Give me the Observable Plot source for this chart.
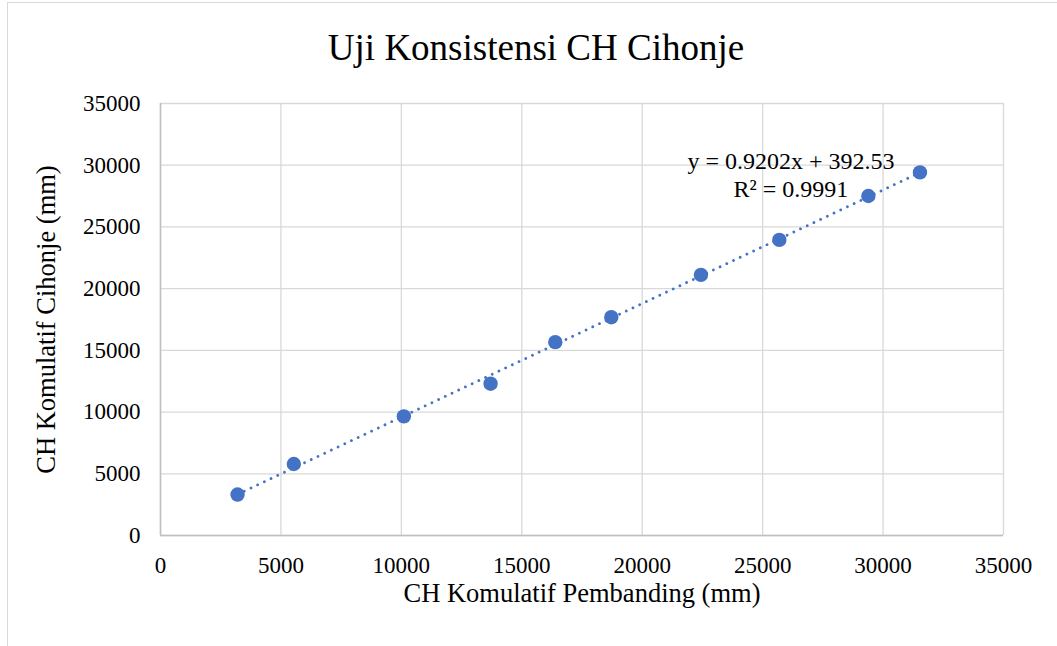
<!DOCTYPE html>
<html>
<head>
<meta charset="utf-8">
<script src="https://cdn.jsdelivr.net/npm/d3@7"></script>
<script src="https://cdn.jsdelivr.net/npm/@observablehq/plot@0.6"></script>
<style>
  html, body { margin: 0; padding: 0; background: #fff; overflow: hidden; width: 1057px; height: 646px; }
  #frame { position: absolute; left: 7px; top: 2px; width: 1100px; height: 700px;
           border-left: 1.5px solid #d9d9d9; border-top: 1.5px solid #d9d9d9; }
  #title { position: absolute; left: 7px; top: 29px; width: 1058px; text-align: center;
           font-family: "Liberation Serif", "Times New Roman", serif; font-size: 37px; line-height: 37px; color: #000; }
  #chart { position: absolute; left: 0; top: 80px; }
</style>
</head>
<body>
<div id="frame"></div>
<div id="title">Uji Konsistensi CH Cihonje</div>
<div id="chart"></div>
<script>
// Data
const chPembanding = [3198, 5536, 10104, 13704, 16391, 18716, 22438, 25693, 29389, 31532];
const chCihonje    = [3317, 5793, 9652, 12298, 15663, 17686, 21117, 23948, 27508, 29417];
const axisTicks = [0, 5000, 10000, 15000, 20000, 25000, 30000, 35000];
const trendSlope = 0.9202;
const trendIntercept = 392.53;
const equationText = "y = 0.9202x + 392.53\nR² = 0.9991";
const xTitle = "CH Komulatif Pembanding (mm)";
const yTitle = "CH Komulatif Cihonje (mm)";

const points = chPembanding.map((x, i) => ({x, y: chCihonje[i]}));
const xExt = d3.extent(chPembanding);
const trend = xExt.map(x => ({x, y: trendSlope * x + trendIntercept}));
const last = points[points.length - 1];

const font = '"Liberation Serif", "Times New Roman", serif';
const blue = "#4472C4";

const chart = Plot.plot({
  width: 1057,
  height: 560,
  marginLeft: 160,
  marginRight: 54,
  marginTop: 23,
  marginBottom: 105,
  style: { fontFamily: font, fontSize: "23px", color: "#000", background: "transparent", overflow: "visible" },
  x: { domain: [0, 35000], ticks: axisTicks, tickFormat: d => String(d), tickSize: 0, tickPadding: 21, label: null },
  y: { domain: [0, 35000], ticks: axisTicks, tickFormat: d => String(d), tickSize: 0, tickPadding: 20, label: null },
  marks: [
    Plot.gridX(axisTicks, { stroke: "#d9d9d9", strokeOpacity: 1, strokeWidth: 1.3 }),
    Plot.gridY(axisTicks, { stroke: "#d9d9d9", strokeOpacity: 1, strokeWidth: 1.3 }),
    Plot.ruleX([0], { stroke: "#bfbfbf", strokeWidth: 1.5 }),
    Plot.ruleY([0], { stroke: "#bfbfbf", strokeWidth: 1.5 }),
    Plot.line(trend, { x: "x", y: "y", stroke: blue, strokeWidth: 2.8, strokeLinecap: "round", strokeDasharray: "0.01 7.4" }),
    Plot.dot(points, { x: "x", y: "y", r: 7.2, fill: blue, stroke: "none" }),
    Plot.text([last], { x: "x", y: "y", text: () => equationText, dx: -129, dy: -23, lineAnchor: "top",
      textAnchor: "middle", lineHeight: 1.17, fontSize: 24, fill: "#000" }),
    Plot.text([xTitle], { text: d => d, frameAnchor: "bottom", textAnchor: "middle", dy: 66.5, fontSize: 26.5, fill: "#000" }),
    Plot.text([yTitle], { text: d => d, frameAnchor: "left", textAnchor: "middle", dx: -113.5, rotate: -90, fontSize: 26.5, fill: "#000" })
  ]
});
document.getElementById("chart").appendChild(chart);
</script>
</body>
</html>
